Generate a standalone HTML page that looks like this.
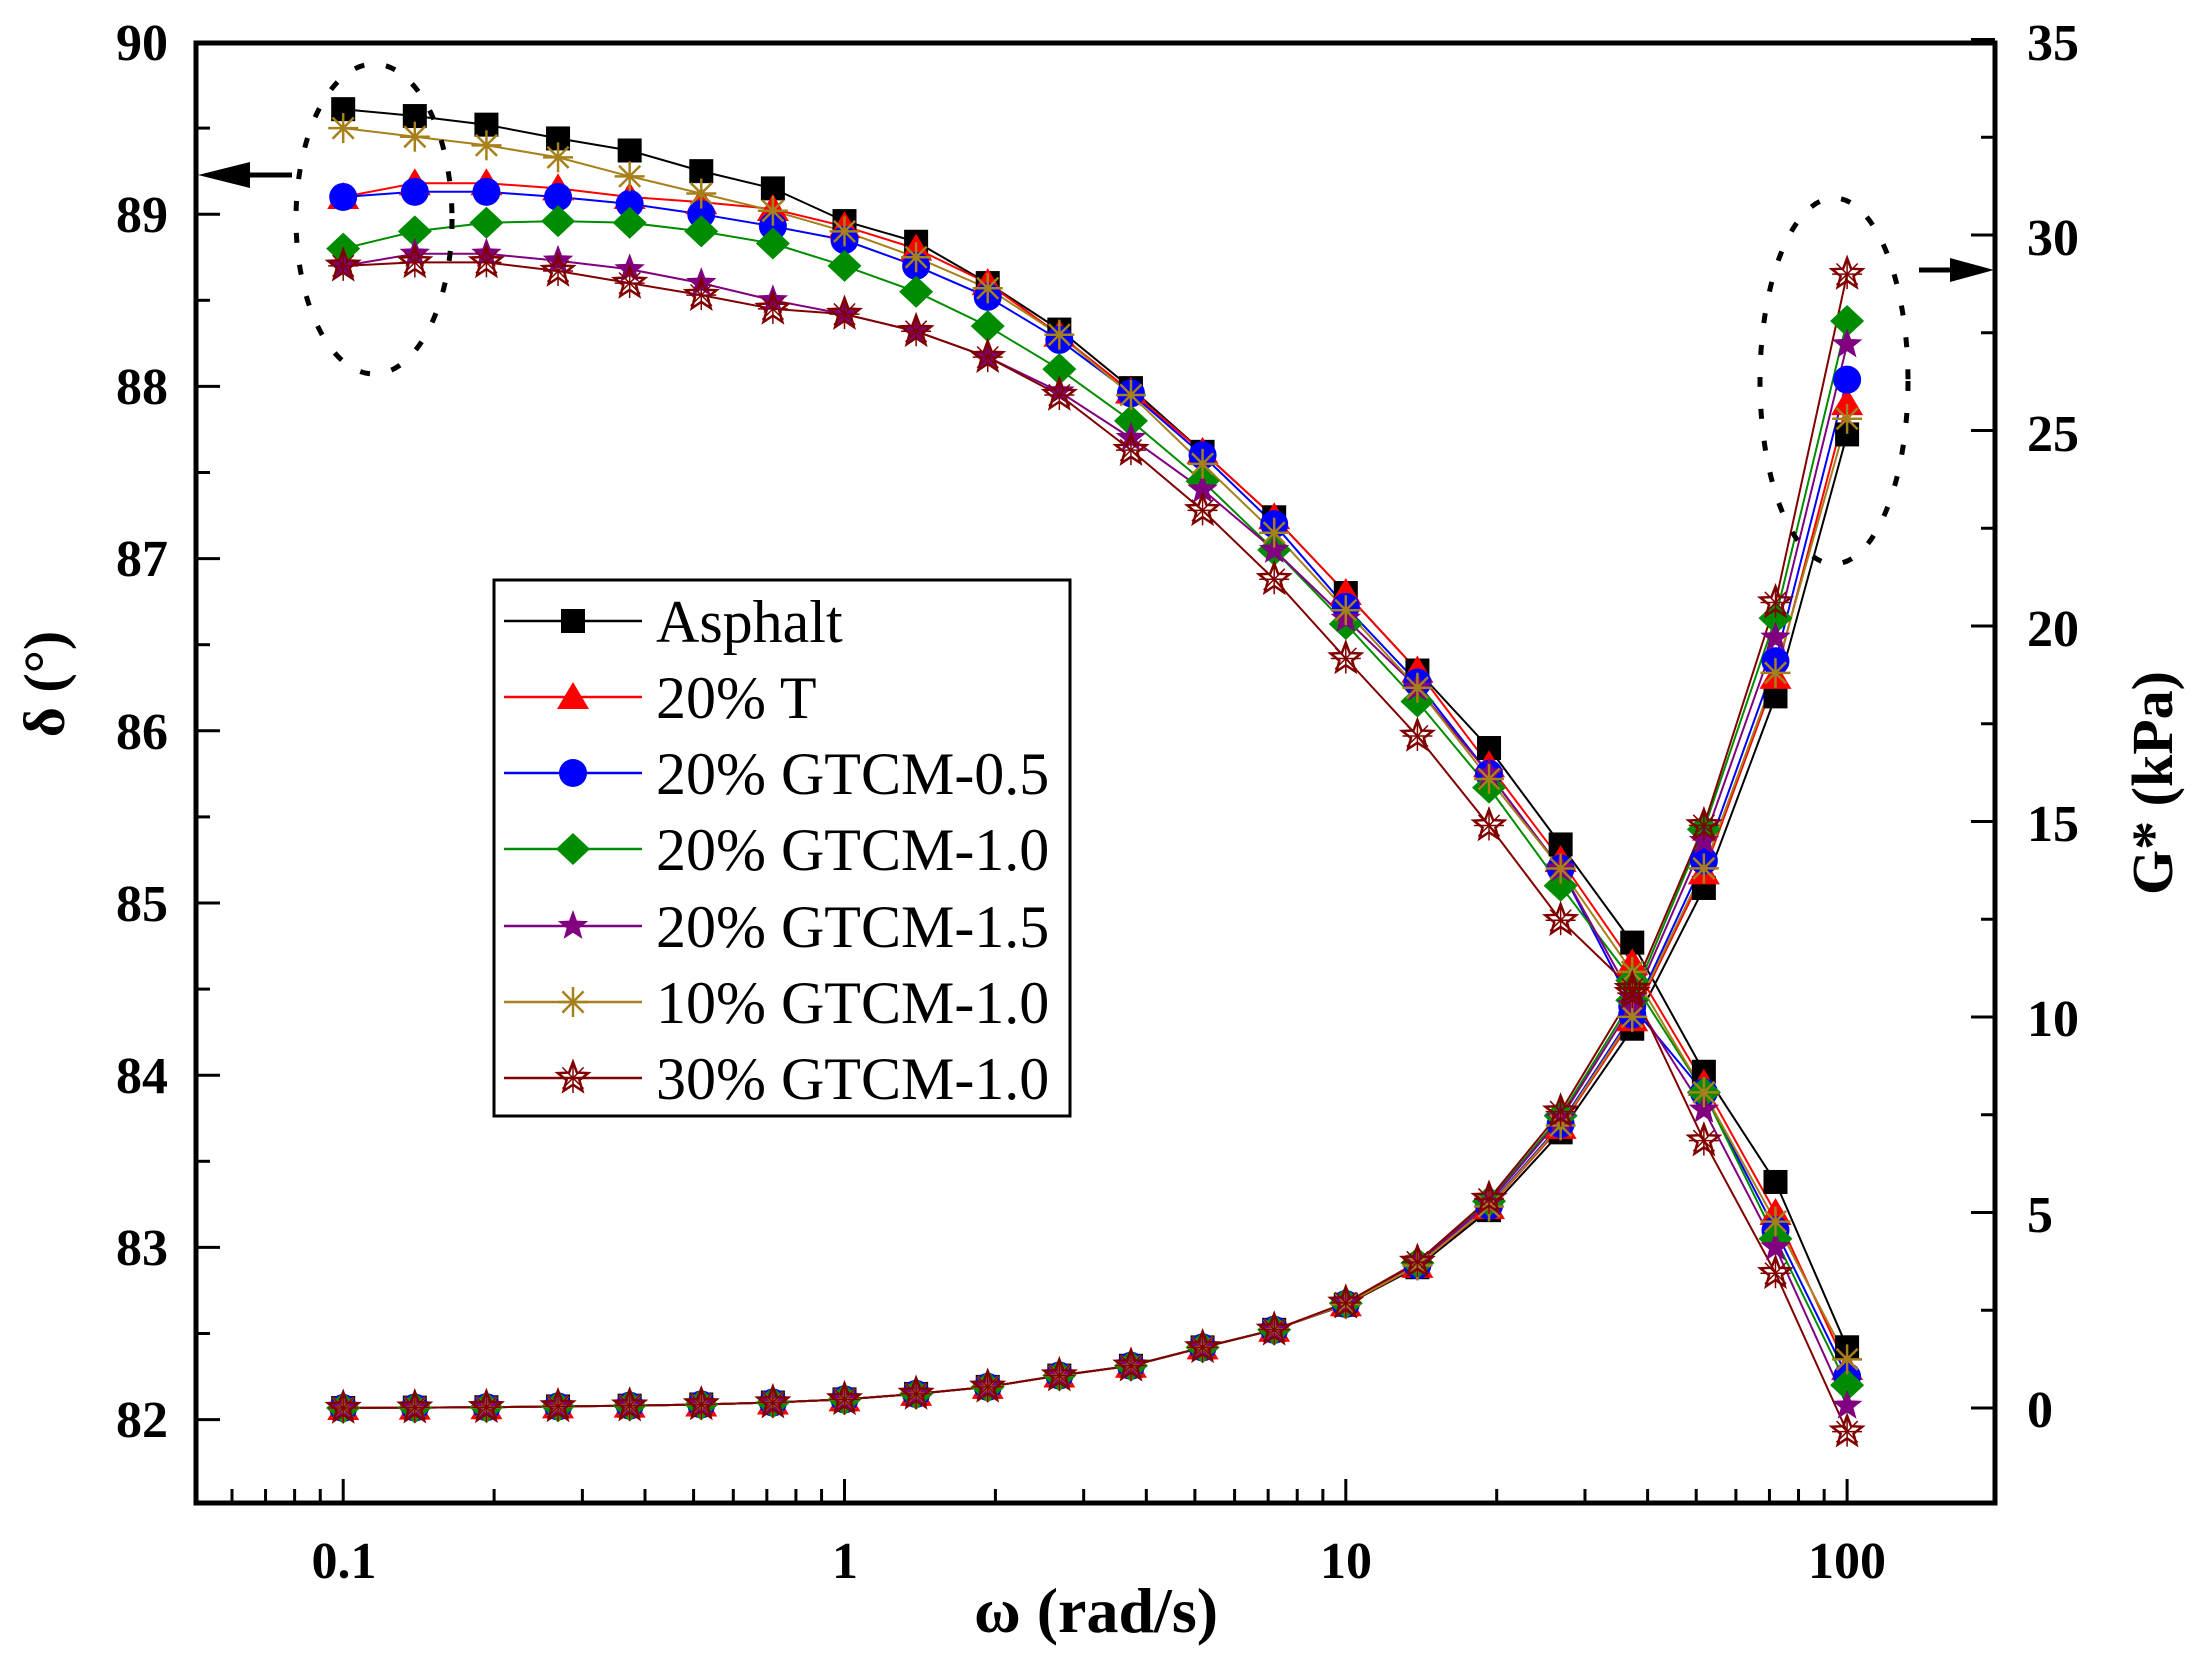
<!DOCTYPE html>
<html><head><meta charset="utf-8">
<style>
html,body{margin:0;padding:0;background:#fff;}
svg{display:block;}
.tl{font-family:"Liberation Serif",serif;font-weight:bold;font-size:52px;fill:#000;}
.lg{font-family:"Liberation Serif",serif;font-size:60px;fill:#000;}
</style></head><body>
<svg id="s" width="2211" height="1662" viewBox="0 0 2211 1662" xmlns="http://www.w3.org/2000/svg">
<rect width="2211" height="1662" fill="#fff"/>
<g id="ticks" stroke="#000" stroke-width="3"></g>
<g id="data"></g>
<ellipse cx="374" cy="219" rx="78" ry="155" fill="none" stroke="#000" stroke-width="5" stroke-dasharray="10,22"/>
<ellipse cx="1834" cy="381" rx="74" ry="183" fill="none" stroke="#000" stroke-width="5" stroke-dasharray="10,22"/>
<line x1="240" y1="175" x2="292" y2="175" stroke="#000" stroke-width="5"/>
<polygon points="198,175 250,162 250,188" fill="#000"/>
<line x1="1919" y1="270" x2="1960" y2="270" stroke="#000" stroke-width="5"/>
<polygon points="1994,270 1950,258 1950,282" fill="#000"/>
<rect x="196" y="43" width="1799" height="1460" fill="none" stroke="#000" stroke-width="5"/>
<g class="tl" text-anchor="end">
<text x="168" y="60">90</text><text x="168" y="232">89</text><text x="168" y="404">88</text>
<text x="168" y="576">87</text><text x="168" y="749">86</text><text x="168" y="921">85</text>
<text x="168" y="1093">84</text><text x="168" y="1265">83</text><text x="168" y="1437">82</text>
</g>
<g class="tl" text-anchor="start">
<text x="2027" y="60">35</text><text x="2027" y="255">30</text><text x="2027" y="451">25</text>
<text x="2027" y="646">20</text><text x="2027" y="841">15</text><text x="2027" y="1036">10</text>
<text x="2027" y="1232">5</text><text x="2027" y="1427">0</text>
</g>
<g class="tl" text-anchor="middle">
<text x="344" y="1578">0.1</text><text x="845" y="1578">1</text><text x="1346" y="1578">10</text><text x="1847" y="1578">100</text>
</g>
<text x="1096" y="1632" text-anchor="middle" style="font-family:'Liberation Serif',serif;font-weight:bold;font-size:64px">ω (rad/s)</text>
<text transform="translate(64,684) rotate(-90)" text-anchor="middle" style="font-family:'Liberation Serif',serif;font-weight:bold;font-size:58px">δ (°)</text>
<text transform="translate(2172,783) rotate(-90)" text-anchor="middle" style="font-family:'Liberation Serif',serif;font-weight:bold;font-size:58px">G* (kPa)</text>
<rect x="494" y="580" width="576" height="536" fill="#fff" stroke="#000" stroke-width="3"/>
<g id="leg"></g>
<g class="lg">
<text x="656" y="642">Asphalt</text>
<text x="656" y="718">20% T</text>
<text x="656" y="794">20% GTCM-0.5</text>
<text x="656" y="870">20% GTCM-1.0</text>
<text x="656" y="947">20% GTCM-1.5</text>
<text x="656" y="1023">10% GTCM-1.0</text>
<text x="656" y="1099">30% GTCM-1.0</text>
</g>
</svg>
<script>
var NS="http://www.w3.org/2000/svg";
function el(p,t,a){var e=document.createElementNS(NS,t);for(var k in a)e.setAttribute(k,a[k]);p.appendChild(e);return e;}
var X=function(w){return 844.5+501.3*Math.log10(w);};
var YL=function(d){return 42+(90-d)*172.2;};
var YR=function(g){return 1408-g*39.1;};
var tk=document.getElementById('ticks');
for(var d=82;d<=90;d+=0.5){var y=YL(d),L=(d%1==0)?24:14;el(tk,'line',{x1:196,y1:y,x2:196+L,y2:y});}
for(var g=0;g<=35;g+=2.5){var y=YR(g),L=(g%5==0)?24:14;el(tk,'line',{x1:1995,y1:y,x2:1995-L,y2:y});}
for(var e=-2;e<=2;e++)for(var m=1;m<10;m++){var w=m*Math.pow(10,e),x=X(w);if(x<198||x>1993)continue;var L=m==1?24:14;el(tk,'line',{x1:x,y1:1503,x2:x,y2:1503-L});}
var ws=[];for(var i=0;i<22;i++)ws.push(Math.pow(10,-1+i/7));
var Gb=[0,0.01,0.02,0.04,0.06,0.09,0.14,0.22,0.36,0.54,0.83,1.08,1.55,2.0,2.64,3.6,5.06,7.05,9.7,13.3,18.2,24.9];
function gs(s,end){var r=Gb.slice();for(var i=14;i<22;i++){r[i]=Gb[i]*(1+s*(i-13)/8);}r[21]=end;return r;}
var S=[
{c:'#000',m:'sq',d:[89.61,89.57,89.52,89.44,89.37,89.25,89.15,88.96,88.84,88.6,88.33,87.99,87.62,87.24,86.8,86.35,85.9,85.34,84.77,84.02,83.38,82.42],g:gs(0,24.9),g2:[13.3,18.2]},
{c:'#f00',m:'tri',d:[89.1,89.18,89.18,89.15,89.1,89.07,89.03,88.93,88.8,88.6,88.3,87.97,87.62,87.24,86.8,86.35,85.8,85.25,84.65,83.95,83.2,82.3],g:gs(0.04,25.7),g2:[13.7,18.7]},
{c:'#00f',m:'ci',d:[89.1,89.13,89.13,89.1,89.06,89.0,88.93,88.85,88.7,88.52,88.27,87.96,87.6,87.2,86.72,86.28,85.75,85.2,84.4,83.9,83.1,82.25],g:gs(0.06,26.3),g2:[14.0,19.1]},
{c:'#008c00',m:'di',d:[88.8,88.9,88.95,88.96,88.95,88.9,88.83,88.7,88.55,88.35,88.1,87.8,87.45,87.05,86.62,86.17,85.67,85.1,84.55,83.9,83.05,82.2],g:gs(0.12,27.8),g2:[14.8,20.2]},
{c:'#800080',m:'st',d:[88.7,88.77,88.77,88.73,88.68,88.6,88.5,88.42,88.32,88.17,87.97,87.7,87.4,87.05,86.65,86.25,85.75,85.2,84.45,83.8,83.0,82.08],g:gs(0.1,27.2),g2:[14.5,19.7]},
{c:'#a6801a',m:'as',d:[89.5,89.45,89.4,89.33,89.22,89.12,89.02,88.9,88.75,88.57,88.3,87.95,87.55,87.15,86.7,86.25,85.72,85.2,84.6,83.9,83.15,82.35],g:gs(0.05,25.3),g2:[13.8,18.8]},
{c:'#800000',m:'xs',d:[88.7,88.72,88.72,88.67,88.6,88.53,88.45,88.42,88.32,88.17,87.95,87.63,87.28,86.88,86.42,85.97,85.45,84.9,84.5,83.62,82.85,81.93],g:gs(0.15,29.0),g2:[14.9,20.6]}
];
function star(cx,cy,R){var p=[];for(var i=0;i<10;i++){var r=i%2?R*0.42:R,a=-Math.PI/2+i*Math.PI/5;p.push((cx+r*Math.cos(a)).toFixed(1)+','+(cy+r*Math.sin(a)).toFixed(1));}return p.join(' ');}
function mk(p,t,x,y,c){
 if(t=='sq')el(p,'rect',{x:x-12,y:y-12,width:24,height:24,fill:c});
 else if(t=='tri')el(p,'polygon',{points:(x)+','+(y-15)+' '+(x-16)+','+(y+12)+' '+(x+16)+','+(y+12),fill:c});
 else if(t=='ci')el(p,'circle',{cx:x,cy:y,r:14,fill:c});
 else if(t=='di')el(p,'polygon',{points:x+','+(y-16)+' '+(x+17)+','+y+' '+x+','+(y+16)+' '+(x-17)+','+y,fill:c});
 else if(t=='st')el(p,'polygon',{points:star(x,y,16),fill:c});
 else if(t=='as'){for(var i=0;i<4;i++){var a=i*Math.PI/4;el(p,'line',{x1:x-15*Math.cos(a),y1:y-15*Math.sin(a),x2:x+15*Math.cos(a),y2:y+15*Math.sin(a),stroke:c,'stroke-width':2.5});}}
 else if(t=='xs'){el(p,'polygon',{points:star(x,y,16),fill:'none',stroke:c,'stroke-width':2.5});for(var i=0;i<4;i++){var a=i*Math.PI/4;el(p,'line',{x1:x-15*Math.cos(a),y1:y-15*Math.sin(a),x2:x+15*Math.cos(a),y2:y+15*Math.sin(a),stroke:c,'stroke-width':1.5});}}
}
var dg=document.getElementById('data');
S.forEach(function(s){
 s.g[19]=s.g2[0];s.g[20]=s.g2[1];
 var p1=[],p2=[];
 for(var i=0;i<22;i++){p1.push(X(ws[i]).toFixed(1)+','+YL(s.d[i]).toFixed(1));p2.push(X(ws[i]).toFixed(1)+','+YR(s.g[i]).toFixed(1));}
 el(dg,'polyline',{points:p1.join(' '),fill:'none',stroke:s.c,'stroke-width':2});
 el(dg,'polyline',{points:p2.join(' '),fill:'none',stroke:s.c,'stroke-width':2});
});
S.forEach(function(s){for(var i=0;i<22;i++){mk(dg,s.m,X(ws[i]),YL(s.d[i]),s.c);mk(dg,s.m,X(ws[i]),YR(s.g[i]),s.c);}});
var lg=document.getElementById('leg');var ys=[621,697,773,849,926,1002,1078];
S.forEach(function(s,i){el(lg,'line',{x1:504,y1:ys[i],x2:642,y2:ys[i],stroke:s.c,'stroke-width':2.5});mk(lg,s.m,573,ys[i],s.c);});
</script>
</body></html>
